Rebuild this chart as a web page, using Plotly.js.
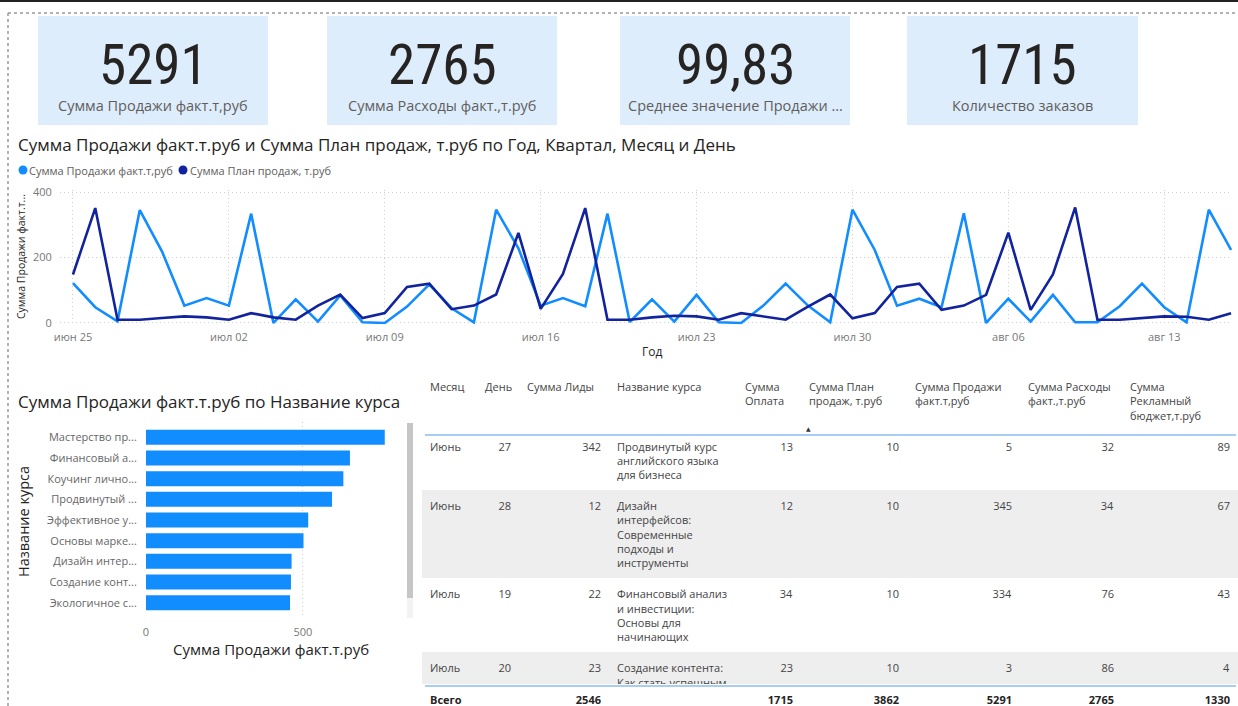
<!DOCTYPE html>
<html><head><meta charset="utf-8">
<script src="https://cdn.plot.ly/plotly-3.0.1.min.js"></script>
<style>html,body{margin:0;padding:0;background:#fff;overflow:hidden}#chart{width:1238px;height:706px}</style>
</head><body><div id="chart"></div>
<script>
// ---------- DATA ----------
const kpiValues = [5291, 2765, 99.83, 1715];
const kpiLabels = ['Сумма Продажи факт.т,руб', 'Сумма Расходы факт.,т.руб', 'Среднее значение Продажи ...', 'Количество заказов'];

const lineTitle = 'Сумма Продажи факт.т.руб и Сумма План продаж, т.руб по Год, Квартал, Месяц и День';
const seriesNames = ['Сумма Продажи факт.т,руб', 'Сумма План продаж, т.руб'];
const dates = ['2024-06-25','2024-06-26','2024-06-27','2024-06-28','2024-06-29','2024-06-30',
  '2024-07-01','2024-07-02','2024-07-03','2024-07-04','2024-07-05','2024-07-06','2024-07-07','2024-07-08',
  '2024-07-09','2024-07-10','2024-07-11','2024-07-12','2024-07-13','2024-07-14','2024-07-15','2024-07-16',
  '2024-07-17','2024-07-18','2024-07-19','2024-07-20','2024-07-21','2024-07-22','2024-07-23','2024-07-24',
  '2024-07-25','2024-07-26','2024-07-27','2024-07-28','2024-07-29','2024-07-30','2024-07-31',
  '2024-08-01','2024-08-02','2024-08-03','2024-08-04','2024-08-05','2024-08-06','2024-08-07','2024-08-08',
  '2024-08-09','2024-08-10','2024-08-11','2024-08-12','2024-08-13','2024-08-14','2024-08-15','2024-08-16'];
const salesFact = [122,48,5,345,218,53,76,53,334,0,72,4,84,2,0,50,
  118,45,2,346,228,53,76,51,334,3,72,4,86,2,0,53,
  120,53,2,346,223,53,74,48,335,0,74,4,86,2,2,51,
  120,48,2,346,223];
const salesPlan = [148,351,10,10,15,20,17,10,30,17,10,53,87,15,30,110,120,42,53,87,275,43,
  150,351,10,10,17,22,20,10,30,20,10,50,87,14,30,110,120,40,53,86,276,40,
  148,353,10,10,15,20,19,10,30];
const dateTickVals = ['2024-06-25','2024-07-02','2024-07-09','2024-07-16','2024-07-23','2024-07-30','2024-08-06','2024-08-13'];
const dateTickText = ['июн 25','июл 02','июл 09','июл 16','июл 23','июл 30','авг 06','авг 13'];
const lineYTicks = [0, 200, 400];
const lineYTitle = 'Сумма Продажи факт.т...';
const lineXTitle = 'Год';

const barTitle = 'Сумма Продажи факт.т.руб по Название курса';
const courses = ['Мастерство пр...','Финансовый а...','Коучинг лично...','Продвинутый ...','Эффективное у...','Основы марке...','Дизайн интер...','Создание конт...','Экологичное с...'];
const courseSales = [761, 650, 629, 593, 517, 502, 464, 462, 459];
const barXTicks = [0, 500];
const barXTitle = 'Сумма Продажи факт.т.руб';
const barYTitle = 'Название курса';

const tableHeaders = ['Месяц','День','Сумма Лиды','Название курса','Сумма<br>Оплата','Сумма План<br>продаж, т.руб','Сумма Продажи<br>факт.т,руб','Сумма Расходы<br>факт.,т.руб','Сумма<br>Рекламный<br>бюджет,т.руб'];
const colMonth = ['Июнь','Июнь','Июль','Июль'];
const colDay = [27, 28, 19, 20];
const colLeads = [342, 12, 22, 23];
const colCourse = ['Продвинутый курс<br>английского языка<br>для бизнеса',
  'Дизайн<br>интерфейсов:<br>Современные<br>подходы и<br>инструменты',
  'Финансовый анализ<br>и инвестиции:<br>Основы для<br>начинающих',
  'Создание контента:<br>Как стать успешным<br>блогером'];
const colPayment = [13, 12, 34, 23];
const colPlan = [10, 10, 10, 10];
const colSales = [5, 345, 334, 3];
const colExpenses = [32, 34, 76, 86];
const colAdBudget = [89, 67, 43, 4];
const totalsRow = ['Всего', '', '2546', '', '1715', '3862', '5291', '2765', '1330'];

// ---------- LAYOUT HELPERS ----------
const W = 1238, H = 706;
const X = p => p / W;
const Y = p => 1 - p / H;
const FONT = '"Segoe UI", "Open Sans", sans-serif';
const C_LIGHT = '#118DFF', C_DARK = '#12239E';
const TXT = '#252423', TXT2 = '#605E5C';
const GRID = '#CFCFCF', GDASH = '1px,3px';
// give every table cell the same multi-line text layout so first lines align
const ml = s => (String(s).indexOf('<br>') >= 0 ? String(s) : String(s) + '<br>');

const shapes = [];
const annotations = [];

// borders
shapes.push({type:'line', xref:'paper', yref:'paper', x0:0, x1:1, y0:Y(1), y1:Y(1), line:{color:'#222', width:2}});
shapes.push({type:'line', xref:'paper', yref:'paper', x0:X(8), x1:1, y0:Y(13), y1:Y(13), line:{color:'#999', width:1.5, dash:'dot'}});
shapes.push({type:'line', xref:'paper', yref:'paper', x0:X(8), x1:X(8), y0:Y(13), y1:0, line:{color:'#999', width:1.5, dash:'dot'}});

// KPI cards
const cards = [[38,268],[327,557],[620,850],[907,1138]];
cards.forEach((c, i) => {
  shapes.push({type:'rect', xref:'paper', yref:'paper', x0:X(c[0]), x1:X(c[1]), y0:Y(125), y1:Y(16), fillcolor:'#DEEDFC', line:{width:0}, layer:'below'});
  const v = kpiValues[i];
  const txt = Number.isInteger(v) ? String(v) : v.toFixed(2).replace('.', ',');
  const cx = X((c[0] + c[1]) / 2);
  annotations.push({xref:'paper', yref:'paper', x:cx, y:Y(65), xanchor:'center', yanchor:'middle', showarrow:false, text:txt,
    font:{family:'"Liberation Sans Narrow", "Roboto Condensed", "Liberation Sans", sans-serif', size:55, color:TXT}});
  annotations.push({xref:'paper', yref:'paper', x:cx, y:Y(106), xanchor:'center', yanchor:'middle', showarrow:false, text:kpiLabels[i],
    font:{family:FONT, size:14.5, color:TXT2}});
});

// line chart title + legend + axis titles
annotations.push({xref:'paper', yref:'paper', x:X(16), y:Y(144), xanchor:'left', yanchor:'middle', showarrow:false, text:lineTitle, font:{family:FONT, size:17, color:TXT}});
const legendItems = [[23, 29, C_LIGHT], [183, 190, C_DARK]];
legendItems.forEach((l, i) => {
  shapes.push({type:'circle', xref:'paper', yref:'paper', x0:X(l[0]-4.5), x1:X(l[0]+4.5), y0:Y(170+4.5), y1:Y(170-4.5), fillcolor:l[2], line:{width:0}});
  annotations.push({xref:'paper', yref:'paper', x:X(l[1]-2), y:Y(170), xanchor:'left', yanchor:'middle', showarrow:false, text:seriesNames[i], font:{family:FONT, size:11, color:TXT2}});
});
annotations.push({xref:'paper', yref:'paper', x:X(21), y:Y(257), xanchor:'center', yanchor:'middle', showarrow:false, textangle:-90, text:lineYTitle, font:{family:FONT, size:10.5, color:TXT}});
annotations.push({xref:'paper', yref:'paper', x:X(652), y:Y(351), xanchor:'center', yanchor:'middle', showarrow:false, text:lineXTitle, font:{family:FONT, size:12, color:TXT}});

// bar chart title + axis titles + scrollbar
annotations.push({xref:'paper', yref:'paper', x:X(16), y:Y(402), xanchor:'left', yanchor:'middle', showarrow:false, text:barTitle, font:{family:FONT, size:17, color:TXT}});
annotations.push({xref:'paper', yref:'paper', x:X(23), y:Y(522), xanchor:'center', yanchor:'middle', showarrow:false, textangle:-90, text:barYTitle, font:{family:FONT, size:14.5, color:TXT}});
annotations.push({xref:'paper', yref:'paper', x:X(271), y:Y(649), xanchor:'center', yanchor:'middle', showarrow:false, text:barXTitle, font:{family:FONT, size:15, color:TXT}});
shapes.push({type:'rect', xref:'paper', yref:'paper', x0:X(407), x1:X(413), y0:Y(618), y1:Y(423), fillcolor:'#F3F3F3', line:{width:0}});
shapes.push({type:'rect', xref:'paper', yref:'paper', x0:X(407), x1:X(413), y0:Y(598), y1:Y(423), fillcolor:'#C6C6C6', line:{width:0}});

// table separators + sort arrow
shapes.push({type:'line', xref:'paper', yref:'paper', x0:X(425), x1:X(1236), y0:Y(435), y1:Y(435), line:{color:'#A9CDF2', width:2}});
shapes.push({type:'line', xref:'paper', yref:'paper', x0:X(425), x1:X(1236), y0:Y(686), y1:Y(686), line:{color:'#A9CDF2', width:2}});
annotations.push({xref:'paper', yref:'paper', x:X(808), y:Y(428), xanchor:'center', yanchor:'middle', showarrow:false, text:'▲', font:{family:'DejaVu Sans', size:6, color:'#333'}});

// ---------- TRACES ----------
const rowFill = ['#FFFFFF', '#EEEEEE', '#FFFFFF', '#EEEEEE'];
const nCols = tableHeaders.length;
const fillCols = Array.from({length:nCols}, () => rowFill);
const colAlign = ['left','right','right','left','right','right','right','right','right'];
const colWidths = [55, 42, 90, 128, 64, 106, 113, 102, 116];
const TFONT = {family:FONT, size:11, color:'#444'};
const tableCols = [colMonth, colDay, colLeads, colCourse, colPayment, colPlan, colSales, colExpenses, colAdBudget];

const traces = [
  {type:'scatter', mode:'lines', x:dates, y:salesFact, name:seriesNames[0], line:{color:C_LIGHT, width:2.6}, xaxis:'x', yaxis:'y', hoverinfo:'skip'},
  {type:'scatter', mode:'lines', x:dates, y:salesPlan, name:seriesNames[1], line:{color:C_DARK, width:2.6}, xaxis:'x', yaxis:'y', hoverinfo:'skip'},
  {type:'bar', orientation:'h', x:courseSales, y:courses, marker:{color:C_LIGHT}, xaxis:'x2', yaxis:'y2', hoverinfo:'skip'},
  {type:'table', domain:{x:[X(422), X(1238)], y:[Y(686), Y(371)]}, columnwidth:colWidths,
    header:{values:tableHeaders.map(ml), align:'left', height:18, font:TFONT, fill:{color:'#FFFFFF'}, line:{color:'#FFFFFF', width:1}},
    cells:{values:tableCols.map(col => col.map(ml)),
      align:colAlign, height:18, font:TFONT, fill:{color:fillCols}, line:{color:fillCols, width:1}}},
  {type:'table', domain:{x:[X(422), X(1238)], y:[Y(706), Y(684)]}, columnwidth:colWidths,
    header:{values:totalsRow.map(t => t ? '<b>' + t + '</b>' : ''), align:colAlign, height:20, font:{family:FONT, size:11, color:TXT}, fill:{color:'#FFFFFF'}, line:{color:'#FFFFFF', width:1}},
    cells:{values:totalsRow.map(() => []), height:18}}
];

const layout = {
  width:W, height:H, margin:{l:0, r:0, t:0, b:0}, paper_bgcolor:'#FFFFFF', plot_bgcolor:'rgba(0,0,0,0)',
  showlegend:false, font:{family:FONT},
  xaxis:{domain:[X(60), X(1232)], type:'date', range:['2024-06-24 10:00', '2024-08-16 01:00'], tickvals:dateTickVals, ticktext:dateTickText,
    showgrid:true, gridcolor:GRID, griddash:GDASH, gridwidth:1, zeroline:false, showline:false, ticks:'outside', ticklen:2, tickcolor:'rgba(0,0,0,0)',
    tickfont:{family:FONT, size:11, color:'#777'}, fixedrange:true},
  yaxis:{domain:[Y(324.6), Y(190.4)], range:[-5, 405], tickvals:lineYTicks, showgrid:true, gridcolor:GRID, griddash:GDASH, zeroline:false, showline:false,
    ticks:'outside', ticklen:5, tickcolor:'rgba(0,0,0,0)', tickfont:{family:FONT, size:11, color:'#777'}, fixedrange:true},
  xaxis2:{domain:[X(146), X(397)], range:[0, 800], tickvals:barXTicks, showgrid:true, gridcolor:GRID, griddash:GDASH, zeroline:false, showline:false,
    ticks:'outside', ticklen:4, tickcolor:'rgba(0,0,0,0)', tickfont:{family:FONT, size:11, color:'#777'}, anchor:'y2', fixedrange:true},
  yaxis2:{domain:[Y(618), Y(422)], type:'category', range:[8.74, -0.74], showgrid:false, zeroline:false, showline:false,
    ticks:'outside', ticklen:6, tickcolor:'rgba(0,0,0,0)', tickfont:{family:FONT, size:11, color:'#666'}, anchor:'x2', fixedrange:true},
  bargap:0.275,
  shapes:shapes, annotations:annotations
};

Plotly.newPlot('chart', traces, layout, {displayModeBar:false});
</script>
</body></html>
